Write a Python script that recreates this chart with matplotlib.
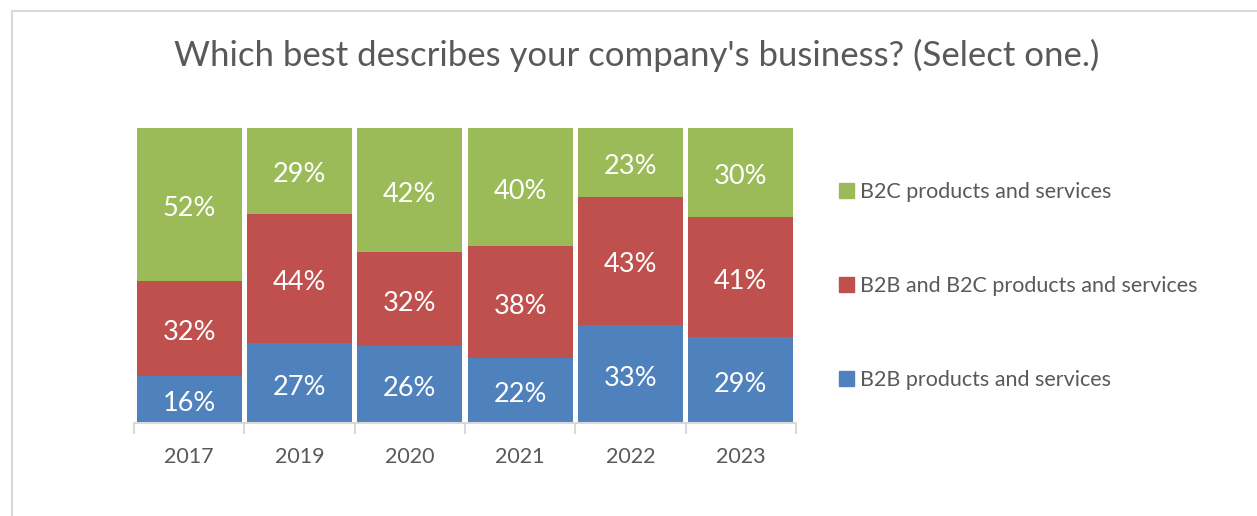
import numpy as np
import matplotlib.pyplot as plt
from matplotlib.lines import Line2D
from matplotlib.patches import Patch

years = ['2017', '2019', '2020', '2021', '2022', '2023']
b2b = [16, 27, 26, 22, 33, 29]
b2b_b2c = [32, 44, 32, 38, 43, 41]
b2c = [52, 29, 42, 40, 23, 30]

series_names = ['B2B products and services', 'B2B and B2C products and services', 'B2C products and services']
colors = ['#4F81BD', '#C0504D', '#9BBB59']
text_gray = '#595959'
line_gray = '#D9D9D9'

plt.rcParams['font.family'] = ['Lato', 'DejaVu Sans']

fig = plt.figure(figsize=(12.57, 5.16), dpi=100)
W, H = 1257, 516

# outer chart border (left and top edges only visible)
fig.add_artist(Line2D([11.5 / W, 11.5 / W], [0, 1 - 10.5 / H], color=line_gray, lw=1.5))
fig.add_artist(Line2D([11.5 / W, 1], [1 - 10.5 / H, 1 - 10.5 / H], color=line_gray, lw=1.5))

ax = fig.add_axes([134 / W, (H - 423) / H, 662 / W, 295 / H])

# 100% stacked columns
data = np.array([b2b, b2b_b2c, b2c], dtype=float)
shares = data / data.sum(axis=0) * 100
x = np.arange(len(years))
bottom = np.zeros(len(years))
for i, name in enumerate(series_names):
    ax.bar(x, shares[i], bottom=bottom, width=0.953, color=colors[i], label=name)
    for j in range(len(years)):
        ax.annotate(f'{int(data[i][j])}%', (x[j], bottom[j] + shares[i][j] / 2),
                    xytext=(0, -3), textcoords='offset points',
                    ha='center', va='center', color='white', fontsize=19.5)
    bottom += shares[i]

ax.set_xlim(-0.5, len(years) - 0.5)
ax.set_ylim(0, 100)
ax.set_yticks([])
for side in ['top', 'right', 'left']:
    ax.spines[side].set_visible(False)
ax.spines['bottom'].set_color(line_gray)
ax.spines['bottom'].set_linewidth(1.5)

ax.set_xticks(x)
ax.set_xticklabels(years)
ax.tick_params(axis='x', which='major', length=0, pad=17.5, labelsize=15.5, labelcolor=text_gray)
ax.set_xticks(np.arange(len(years) + 1) - 0.5, minor=True)
ax.tick_params(axis='x', which='minor', length=8, width=1.5, color=line_gray)

fig.text(637 / W, 1 - 55 / H, "Which best describes your company's business? (Select one.)",
         ha='center', va='center', fontsize=25, color=text_gray)

# legend, top entry first
handles = [Patch(color=colors[i]) for i in [2, 1, 0]]
labels = [series_names[i] for i in [2, 1, 0]]
fig.legend(handles, labels, loc='center left', bbox_to_anchor=(820 / W, 1 - 286 / H),
           frameon=False, fontsize=15.5, labelcolor=text_gray, handlelength=0.7, handleheight=0.7,
           handletextpad=0.25, labelspacing=3.45)

fig.savefig('out.png', dpi=100)
